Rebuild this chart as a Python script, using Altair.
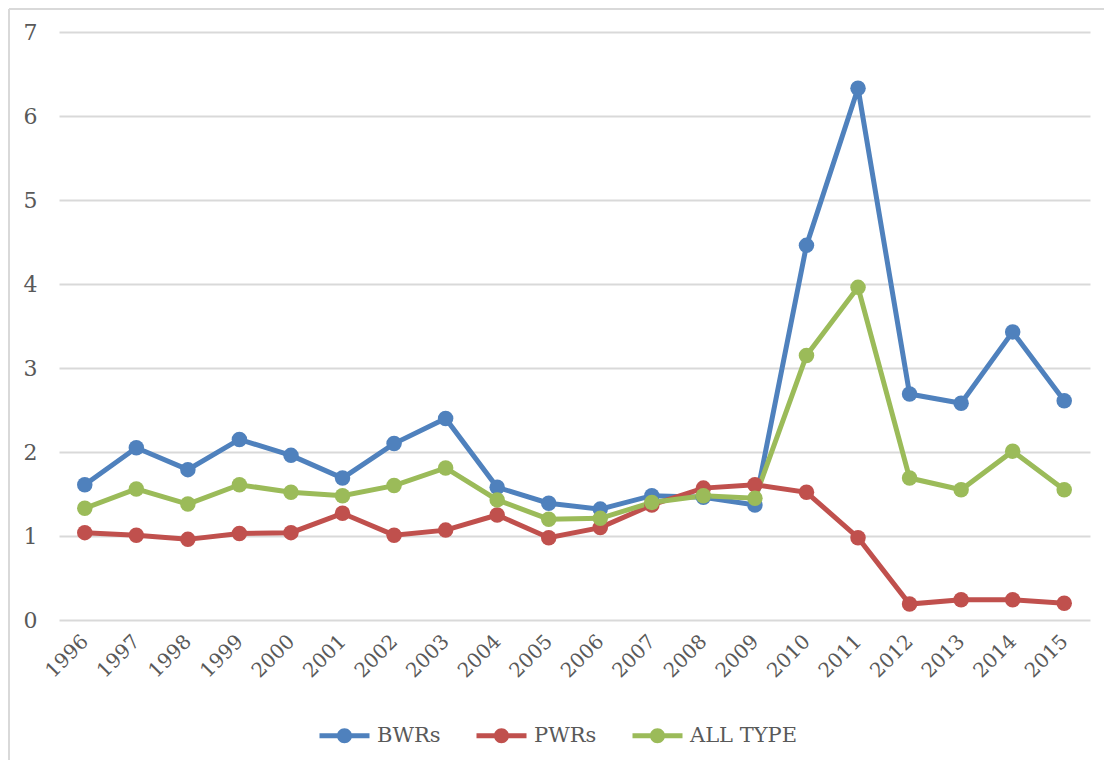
import altair as alt
import pandas as pd

years = [str(y) for y in range(1996, 2016)]
bwr = [1.61, 2.05, 1.79, 2.15, 1.96, 1.69, 2.10, 2.40, 1.58, 1.39,
       1.32, 1.48, 1.46, 1.37, 4.46, 6.33, 2.69, 2.58, 3.43, 2.61]
pwr = [1.04, 1.01, 0.96, 1.03, 1.04, 1.27, 1.01, 1.07, 1.25, 0.98,
       1.10, 1.37, 1.57, 1.61, 1.52, 0.98, 0.19, 0.24, 0.24, 0.20]
all_type = [1.33, 1.56, 1.38, 1.61, 1.52, 1.48, 1.60, 1.81, 1.43, 1.20,
            1.21, 1.40, 1.48, 1.45, 3.15, 3.96, 1.69, 1.55, 2.01, 1.55]
series = ["BWRs", "PWRs", "ALL TYPE"]
colors = ["#4F81BD", "#C0504D", "#9BBB59"]

rows = []
for name, vals in zip(series, [bwr, pwr, all_type]):
    for y, v in zip(years, vals):
        rows.append({"year": y, "value": v, "series": name})
df = pd.DataFrame(rows)

FONT = "DejaVu Serif"
TXT = "#595959"

legend_path = ("M-2,-0.2H2V0.2H-2Z "
               "M-0.6,0A0.6,0.6 0 1,1 0.6,0A0.6,0.6 0 1,1 -0.6,0Z")

color = alt.Color(
    "series:N",
    scale=alt.Scale(domain=series, range=colors),
    sort=series,
    legend=alt.Legend(
        title=None, orient="none", direction="horizontal",
        legendX=273, legendY=691,
        symbolType=legend_path, symbolSize=625, symbolStrokeWidth=0,
        symbolOpacity=1,
        labelFont=FONT, labelFontSize=21, labelColor=TXT,
        labelOffset=20, columnPadding=35, padding=0,
    ),
)

x = alt.X("year:O", title=None, sort=years,
          scale=alt.Scale(paddingInner=1, paddingOuter=0.5),
          axis=alt.Axis(labelAngle=-45, labelFont=FONT, labelFontSize=20,
                        labelColor=TXT, ticks=False, domain=False, grid=False,
                        labelPadding=18, labelAlign="right", labelBaseline="middle"))
y = alt.Y("value:Q", title=None,
          scale=alt.Scale(domain=[0, 7], nice=False),
          axis=alt.Axis(values=list(range(8)), labelFont=FONT, labelFontSize=22,
                        labelColor=TXT, ticks=False, domain=False,
                        gridColor="#D9D9D9", gridWidth=2, labelPadding=22,
                        minExtent=38, maxExtent=38))

base = alt.Chart(df).encode(x=x, y=y, color=color)
points = base.mark_point(filled=True, size=240, opacity=1)
lines = base.mark_line(strokeWidth=5)

# light chart-area border (left and top edges)
border_left = alt.Chart(df).mark_rule(color="#D9D9D9", strokeWidth=2).encode(
    x=alt.value(-50), y=alt.value(-23), y2=alt.value(760))
border_top = alt.Chart(df).mark_rule(color="#D9D9D9", strokeWidth=2).encode(
    x=alt.value(-50), x2=alt.value(1060), y=alt.value(-23))

chart = alt.layer(border_left, border_top, lines, points).properties(
    width=1031, height=588,
    background="white",
    autosize=alt.AutoSizeParams(type="none"),
    padding={"left": 51, "top": 24, "right": 14, "bottom": 140},
).configure_view(strokeWidth=0, stroke="transparent")

chart.save("out.html", embed_options={"renderer": "svg", "actions": False})
